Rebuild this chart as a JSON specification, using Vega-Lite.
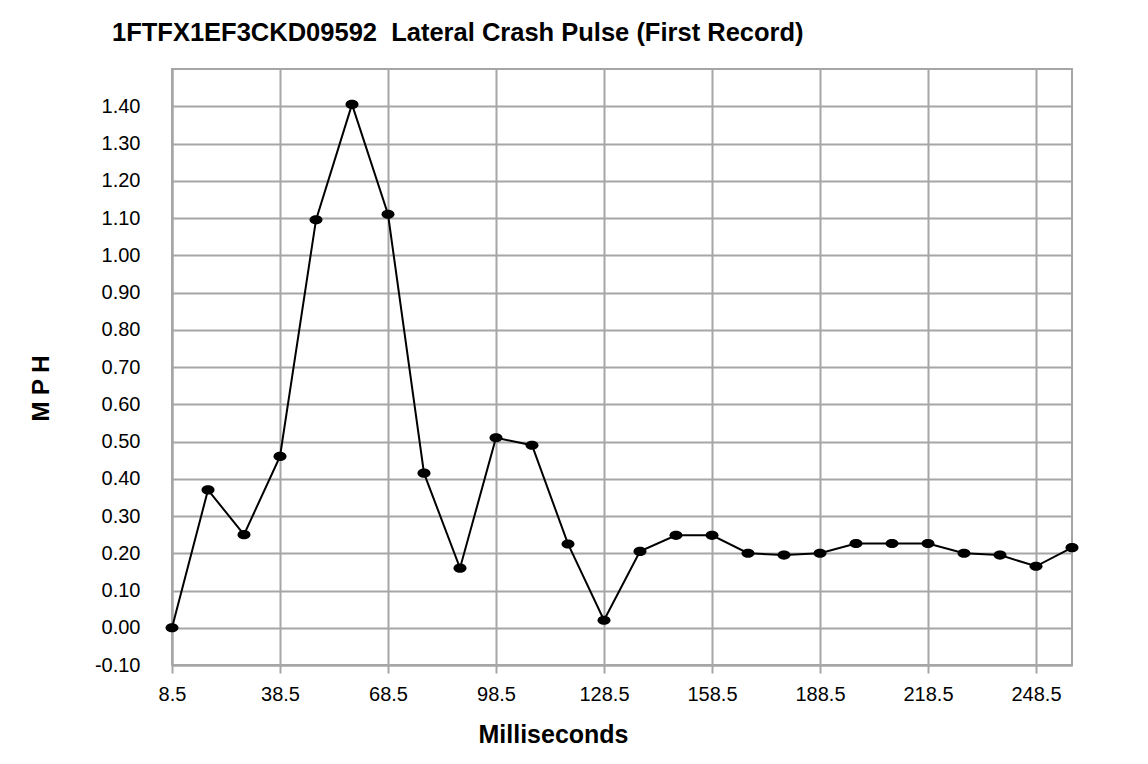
{
  "$schema": "https://vega.github.io/schema/vega-lite/v6.json",
  "autosize": {"type": "none"},
  "width": 900,
  "height": 596,
  "padding": {"left": 172, "top": 69, "right": 76, "bottom": 99},
  "background": "white",
  "title": {
    "text": "1FTFX1EF3CKD09592\u00a0 Lateral Crash Pulse (First Record)",
    "anchor": "start",
    "frame": "group",
    "dx": -60,
    "offset": 3,
    "baseline": "alphabetic",
    "font": "Liberation Sans",
    "fontSize": 25.5,
    "fontWeight": "bold",
    "color": "black"
  },
  "config": {
    "view": {"stroke": "#a6a6a6", "strokeWidth": 2},
    "axis": {
      "labelFont": "Liberation Sans",
      "titleFont": "Liberation Sans",
      "labelColor": "black",
      "titleColor": "black",
      "gridColor": "#a6a6a6",
      "gridWidth": 2,
      "gridOpacity": 1,
      "domainColor": "#a6a6a6",
      "domainWidth": 2,
      "tickColor": "#a6a6a6",
      "tickWidth": 2
    }
  },
  "data": {
    "values": [
      {"ms": 8.5, "mph": 0.0},
      {"ms": 18.5, "mph": 0.37},
      {"ms": 28.5, "mph": 0.25},
      {"ms": 38.5, "mph": 0.46},
      {"ms": 48.5, "mph": 1.095},
      {"ms": 58.5, "mph": 1.405},
      {"ms": 68.5, "mph": 1.11},
      {"ms": 78.5, "mph": 0.415},
      {"ms": 88.5, "mph": 0.16},
      {"ms": 98.5, "mph": 0.51},
      {"ms": 108.5, "mph": 0.49},
      {"ms": 118.5, "mph": 0.225},
      {"ms": 128.5, "mph": 0.02},
      {"ms": 138.5, "mph": 0.205},
      {"ms": 148.5, "mph": 0.248},
      {"ms": 158.5, "mph": 0.248},
      {"ms": 168.5, "mph": 0.2},
      {"ms": 178.5, "mph": 0.195},
      {"ms": 188.5, "mph": 0.2},
      {"ms": 198.5, "mph": 0.226},
      {"ms": 208.5, "mph": 0.226},
      {"ms": 218.5, "mph": 0.226},
      {"ms": 228.5, "mph": 0.2},
      {"ms": 238.5, "mph": 0.195},
      {"ms": 248.5, "mph": 0.165},
      {"ms": 258.5, "mph": 0.215}
    ]
  },
  "encoding": {
    "x": {
      "field": "ms",
      "type": "quantitative",
      "scale": {"domain": [8.5, 258.5], "nice": false, "zero": false},
      "axis": {
        "values": [8.5, 38.5, 68.5, 98.5, 128.5, 158.5, 188.5, 218.5, 248.5],
        "format": ".1f",
        "labelFontSize": 20,
        "labelPadding": 11,
        "tickSize": 8,
        "labelFlush": false,
        "title": "Milliseconds",
        "titleFontSize": 25,
        "titleFontWeight": "bold",
        "titleX": 381,
        "titleY": 77,
        "titleAlign": "center",
        "titleBaseline": "alphabetic"
      }
    },
    "y": {
      "field": "mph",
      "type": "quantitative",
      "scale": {"domain": [-0.1, 1.5], "nice": false, "zero": false},
      "axis": {
        "values": [-0.1, 0, 0.1, 0.2, 0.3, 0.4, 0.5, 0.6, 0.7, 0.8, 0.9, 1.0, 1.1, 1.2, 1.3, 1.4],
        "format": ".2f",
        "labelExpr": "replace(datum.label, '\u2212', '-')",
        "labelFontSize": 20,
        "ticks": false,
        "tickSize": 0,
        "labelPadding": 32,
        "labelFlush": false,
        "title": "M P H",
        "titleFontSize": 24,
        "titleFontWeight": "bold",
        "titleAngle": -90,
        "titleX": -124,
        "titleY": 319,
        "titleAlign": "center",
        "titleBaseline": "alphabetic"
      }
    }
  },
  "layer": [
    {"mark": {"type": "line", "color": "black", "strokeWidth": 2}},
    {
      "mark": {
        "type": "point",
        "filled": true,
        "color": "black",
        "opacity": 1,
        "size": 169,
        "shape": "M -1 0 A 1 0.7 0 1 1 1 0 A 1 0.7 0 1 1 -1 0 Z"
      }
    }
  ]
}
